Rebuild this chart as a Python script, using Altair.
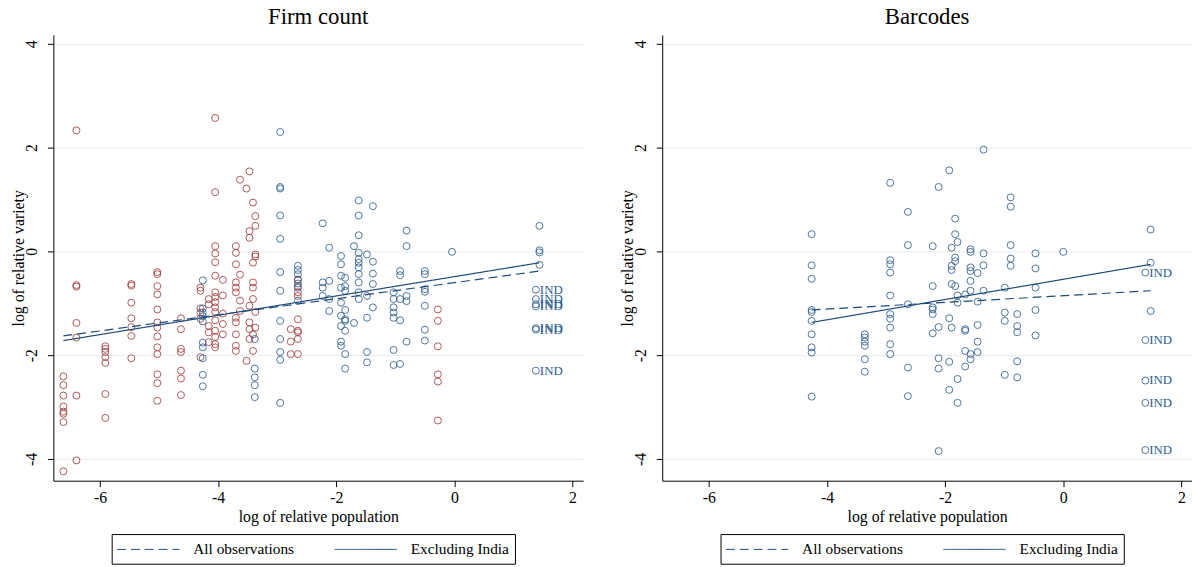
import altair as alt
import pandas as pd

SERIF = "Liberation Serif"
RED = "#a03c3c"
BLUE = "#2e5e8e"
LINE = "#1f4a78"

X_DOMAIN = [-6.79, 2.18]
Y_DOMAIN = [-4.42, 4.17]
X_TICKS = [-6, -4, -2, 0, 2]
Y_TICKS = [-4, -2, 0, 2, 4]
SERIES = ["All observations", "Excluding India"]

# ---------------- Firm count panel ----------------
firm_red_cols = [-6.62, -6.40, -5.91, -5.47, -5.03, -4.63, -4.30, -4.16, -4.05, -3.92,
                 -3.70, -3.63, -3.52, -3.47, -3.41, -3.37, -2.77, -2.65, -0.28]
firm_red_vals = [
    [-2.41, -2.58, -2.78, -2.99, -3.09, -3.13, -3.29, -4.24],
    [2.33, -0.65, -0.68, -1.38, -1.66, -2.78, -4.03],
    [-1.83, -1.88, -1.94, -2.04, -2.15, -2.75, -3.21],
    [-0.63, -0.66, -0.99, -1.29, -1.46, -1.63, -2.06],
    [-0.40, -0.44, -0.67, -0.83, -1.12, -1.37, -1.47, -1.64, -1.85, -1.98, -2.37, -2.54, -2.88],
    [-1.29, -1.50, -1.88, -1.94, -2.30, -2.45, -2.77],
    [-0.70, -0.76, -1.10, -1.18, -1.30, -2.04],
    [-0.92, -1.02, -1.44, -1.56, -1.75],
    [2.57, 1.14, 0.10, -0.04, -0.21, -0.47, -0.79, -0.88, -0.98, -1.08, -1.17, -1.33, -1.53,
     -1.65, -1.79, -1.85],
    [-0.55, -0.85, -1.20, -1.40, -1.60],
    [0.10, -0.03, -0.25, -0.60, -0.70, -0.79, -1.28, -1.37, -1.60, -1.82, -1.92],
    [1.38, -0.45, -0.95, -1.15],
    [1.21, -2.11],
    [1.54, 0.39, 0.26, -1.05, -1.37, -1.50, -1.69],
    [0.94, -0.22, -0.60, -0.70, -0.92, -1.60, -1.92],
    [0.68, 0.49, -0.06, -0.10, -1.17, -1.47],
    [-1.50, -1.74, -1.98],
    [-0.54, -0.67, -0.79, -0.86, -1.31, -1.53, -1.56, -1.69, -1.98],
    [-1.12, -1.34, -1.83, -2.37, -2.51, -3.26],
]
firm_blue_cols = [-4.26, -3.38, -2.95, -2.65, -2.23, -2.12, -1.92, -1.85, -1.70, -1.62,
                  -1.48, -1.38, -1.03, -0.92, -0.81, -0.50, -0.04, 1.44]
firm_blue_vals = [
    [-0.56, -1.10, -1.18, -1.25, -1.35, -1.76, -1.85, -2.06, -2.38, -2.60],
    [-1.69, -2.26, -2.43, -2.58, -2.81],
    [2.30, 1.24, 1.21, 0.69, 0.24, -0.40, -0.76, -1.34, -1.69, -1.94, -2.09, -2.92],
    [-0.28, -0.36, -0.44, -0.55, -0.62, -0.70, -0.95],
    [0.54, -0.60, -0.70, -0.86],
    [0.07, -0.57, -0.92, -1.15],
    [-0.09, -0.25, -0.47, -0.70, -0.99, -1.24, -1.44, -1.74, -1.82],
    [-0.51, -0.67, -0.76, -1.13, -1.31, -1.34, -1.53, -1.98, -2.26],
    [0.10, -1.38],
    [0.98, 0.69, 0.31, -0.03, -0.15, -0.22, -0.31, -0.44, -0.60, -0.79, -0.92],
    [-0.06, -0.86, -1.28, -1.94, -2.14],
    [0.87, -0.20, -0.43, -0.63, -1.08],
    [-0.79, -0.92, -1.08, -1.18, -1.28, -1.90, -2.19],
    [-0.38, -0.46, -0.92, -1.33, -2.17],
    [0.40, 0.10, -0.86, -0.96, -1.74],
    [-0.38, -0.44, -0.73, -0.78, -1.05, -1.51, -1.72],
    [-0.01],
    [0.49, 0.02, -0.02, -0.26],
]
firm_ind_x = 1.38
firm_ind_y = [-0.74, -0.92, -1.02, -1.06, -1.48, -1.51, -2.30]
firm_reg_x = [-6.62, 1.44]
firm_reg_all = [-1.63, -0.38]
firm_reg_excl = [-1.72, -0.22]

# ---------------- Barcodes panel ----------------
bar_red_cols = []
bar_red_vals = []
bar_blue_cols = [-4.26, -3.36, -2.93, -2.63, -2.21, -2.11, -1.93, -1.89, -1.83, -1.79,
                 -1.66, -1.57, -1.45, -1.35, -0.99, -0.89, -0.78, -0.47, 0.00, 1.48]
bar_blue_vals = [
    [0.33, -0.27, -0.53, -1.13, -1.17, -1.34, -1.60, -1.85, -1.95, -2.80],
    [-1.60, -1.66, -1.74, -1.82, -2.08, -2.32],
    [1.32, -0.17, -0.25, -0.41, -0.85, -1.21, -1.30, -1.47, -1.79, -1.98],
    [0.76, 0.12, -1.02, -2.24, -2.79],
    [0.10, -0.67, -1.08, -1.12, -1.21, -1.58],
    [1.24, -1.46, -2.06, -2.26, -3.85],
    [1.56, -1.29, -2.13, -2.67],
    [0.07, -0.28, -0.36, -0.63, -1.47],
    [0.63, 0.33, -0.12, -0.19, -0.67],
    [0.18, -0.85, -0.99, -2.46, -2.92],
    [-0.83, -1.50, -1.53, -1.92, -2.22],
    [0.04, -0.01, -0.31, -0.38, -0.57, -0.76, -1.98, -2.08],
    [-0.42, -0.97, -1.42, -1.74, -1.94],
    [1.96, -0.04, -0.27, -0.76],
    [-0.70, -1.18, -1.34, -2.38],
    [1.04, 0.86, 0.12, -0.14, -0.28],
    [-1.21, -1.44, -1.56, -2.12, -2.43],
    [-0.04, -0.33, -0.70, -1.13, -1.62],
    [-0.01],
    [0.42, -0.22, -1.15],
]
bar_ind_x = 1.39
bar_ind_y = [-0.41, -1.71, -2.49, -2.92, -3.83]
bar_reg_x = [-4.26, 1.48]
bar_reg_all = [-1.13, -0.76]
bar_reg_excl = [-1.37, -0.25]


def to_rows(cols, vals, grp):
    rows = []
    for cx, ys in zip(cols, vals):
        for y in ys:
            rows.append({"x": cx, "y": y, "grp": grp})
    return rows


def panel(title, red_cols, red_vals, blue_cols, blue_vals, ind_x, ind_y,
          reg_x, reg_all, reg_excl):
    rows = to_rows(red_cols, red_vals, "a") + to_rows(blue_cols, blue_vals, "b")
    rows += [{"x": ind_x, "y": y, "grp": "b"} for y in ind_y]
    pts = pd.DataFrame(rows)
    ind = pd.DataFrame({"x": [ind_x] * len(ind_y), "y": ind_y,
                        "label": ["IND"] * len(ind_y)})
    lines = pd.DataFrame({"x": reg_x + reg_x, "y": reg_all + reg_excl,
                          "series": [SERIES[0]] * 2 + [SERIES[1]] * 2})

    xenc = alt.X("x:Q",
                 scale=alt.Scale(domain=X_DOMAIN, nice=False, zero=False),
                 axis=alt.Axis(values=X_TICKS, title="log of relative population",
                               labelExpr="'' + datum.value",
                               grid=False, labelPadding=3, titlePadding=3))
    yenc = alt.Y("y:Q",
                 scale=alt.Scale(domain=Y_DOMAIN, nice=False, zero=False),
                 axis=alt.Axis(values=Y_TICKS, title="log of relative variety",
                               labelExpr="'' + datum.value",
                               grid=True, gridColor="#e4eef0", labelAngle=270,
                               labelAlign="center", labelBaseline="bottom",
                               labelPadding=8, titlePadding=-3))

    points = alt.Chart(pts).mark_point(shape="circle", filled=False, size=50,
                                       strokeWidth=1, opacity=0.85).encode(
        x=xenc, y=yenc,
        color=alt.Color("grp:N", scale=alt.Scale(domain=["a", "b"], range=[RED, BLUE]),
                        legend=None))
    text = alt.Chart(ind).mark_text(align="left", baseline="middle", dx=4,
                                    font=SERIF, fontSize=13, color=BLUE).encode(
        x="x:Q", y="y:Q", text="label:N")
    reg = alt.Chart(lines).mark_line(color=LINE, strokeWidth=1.2).encode(
        x="x:Q", y="y:Q",
        strokeDash=alt.StrokeDash(
            "series:N",
            scale=alt.Scale(domain=SERIES, range=[[9, 5], [1, 0]]),
            legend=alt.Legend(orient="none", legendX=59, legendY=505,
                              direction="horizontal", title=None,
                              strokeColor="black", padding=6,
                              symbolType="M-3.5,0H3.5", symbolSize=324,
                              symbolOffset=21.5,
                              symbolStrokeWidth=1, symbolStrokeColor=LINE,
                              labelFont=SERIF, labelFontSize=15.5, labelColor="black",
                              labelOffset=36, columnPadding=38)))
    return alt.layer(points, reg, text).properties(width=536, height=451, title=title)


left = panel("Firm count", firm_red_cols, firm_red_vals, firm_blue_cols, firm_blue_vals,
             firm_ind_x, firm_ind_y, firm_reg_x, firm_reg_all, firm_reg_excl)
right = panel("Barcodes", bar_red_cols, bar_red_vals, bar_blue_cols, bar_blue_vals,
              bar_ind_x, bar_ind_y, bar_reg_x, bar_reg_all, bar_reg_excl)

chart = alt.hconcat(left, right, spacing=37).resolve_scale(
    strokeDash="independent").resolve_legend(strokeDash="independent").properties(
    padding={"left": 11, "top": 3, "right": 0, "bottom": 0}
).configure_view(stroke=None).configure_axis(
    domainColor="black", domainWidth=1, tickColor="black", tickSize=6,
    labelFont=SERIF, labelFontSize=16, labelColor="black",
    titleFont=SERIF, titleFontSize=16, titleFontWeight="normal", titleColor="black"
).configure_legend(labelFont=SERIF).configure_title(
    font=SERIF, fontSize=23, fontWeight="normal", color="black", offset=6)

chart.save("out.html", embed_options={"renderer": "svg", "actions": False})
